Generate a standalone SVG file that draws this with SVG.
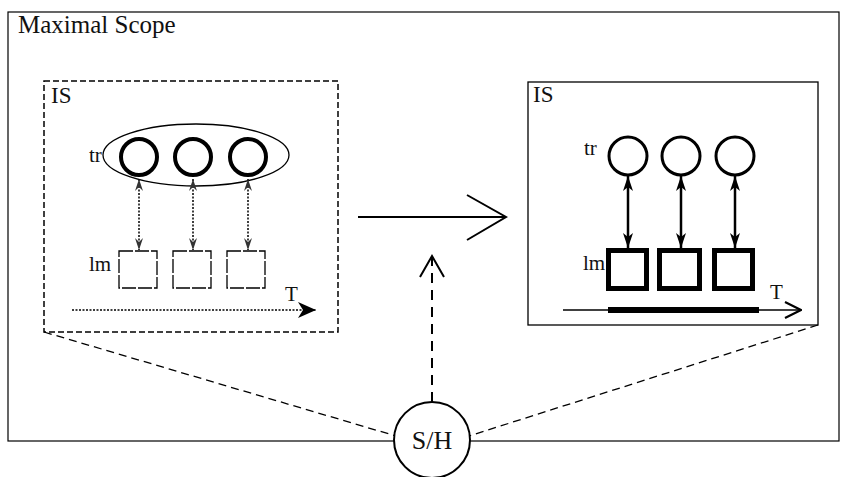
<svg xmlns="http://www.w3.org/2000/svg" width="847" height="477" viewBox="0 0 847 477">
<defs>
<style>
text{font-family:"Liberation Serif","Times New Roman",serif;fill:#111}
.ln{fill:none;stroke:#000}
</style>
<marker id="dh" viewBox="0 0 12 8" refX="12" refY="4" markerWidth="12" markerHeight="8" orient="auto-start-reverse" markerUnits="userSpaceOnUse">
<path d="M0,0 L12,4 L0,8 L4,4 Z" fill="#333"/>
</marker>
<marker id="sh" viewBox="0 0 15 10" refX="15" refY="5" markerWidth="15" markerHeight="10" orient="auto-start-reverse" markerUnits="userSpaceOnUse">
<path d="M0,0 L15,5 L0,10 L4,5 Z" fill="#000"/>
</marker>
<marker id="tb" viewBox="0 0 20 20" refX="20" refY="10" markerWidth="20" markerHeight="20" orient="auto" markerUnits="userSpaceOnUse">
<path d="M2,2 L20,10 L2,18 L7,10 Z" fill="#000"/>
</marker>
<marker id="to" viewBox="0 0 20 20" refX="19" refY="10" markerWidth="20" markerHeight="20" orient="auto" markerUnits="userSpaceOnUse">
<path d="M3,2 L19,10 L3,18" fill="none" stroke="#000" stroke-width="2.2"/>
</marker>
</defs>
<rect width="847" height="477" fill="#fff"/>

<g id="scope">
<rect x="8" y="12" width="831" height="429" class="ln" stroke-width="1.2"/>
<text x="18" y="33" font-size="25">Maximal Scope</text>
</g>

<g id="connectors">
<line x1="44" y1="332" x2="396" y2="436" class="ln" stroke-width="1.3" stroke-dasharray="8,5"/>
<line x1="818" y1="325" x2="469" y2="436" class="ln" stroke-width="1.3" stroke-dasharray="8,5"/>
<line x1="358" y1="217" x2="505" y2="217" class="ln" stroke-width="2"/>
<polyline points="467,195 506,217 467,240" class="ln" stroke-width="2"/>
<line x1="432" y1="402" x2="432" y2="258" class="ln" stroke-width="2" stroke-dasharray="10,7"/>
<polyline points="420,277 432,256 444,277" class="ln" stroke-width="2"/>
</g>

<g id="is-left">
<rect x="44" y="81" width="294" height="251" class="ln" stroke-width="1.5" stroke-dasharray="6,3"/>
<text x="51" y="103" font-size="23">IS</text>
<text x="89" y="162" font-size="21">tr</text>
<text x="89" y="271" font-size="21">lm</text>
<text x="285" y="301" font-size="21">T</text>
<ellipse cx="196" cy="155" rx="93" ry="31" class="ln" stroke-width="1.3"/>
<circle cx="139" cy="157" r="18" class="ln" stroke-width="4"/>
<circle cx="193" cy="157" r="18" class="ln" stroke-width="4"/>
<circle cx="248" cy="157" r="18" class="ln" stroke-width="4"/>
<g stroke-dasharray="2,1.5" stroke-width="1.5">
<line x1="139" y1="179" x2="139" y2="250" class="ln" marker-start="url(#dh)" marker-end="url(#dh)"/>
<line x1="193" y1="179" x2="193" y2="250" class="ln" marker-start="url(#dh)" marker-end="url(#dh)"/>
<line x1="248" y1="179" x2="248" y2="250" class="ln" marker-start="url(#dh)" marker-end="url(#dh)"/>
</g>
<g stroke-dasharray="14,2" stroke-width="1.3">
<rect x="119" y="251" width="38" height="37" class="ln"/>
<rect x="173" y="251" width="38" height="37" class="ln"/>
<rect x="227" y="251" width="38" height="37" class="ln"/>
</g>
<line x1="72" y1="310" x2="316" y2="310" class="ln" stroke-width="1.5" stroke-dasharray="2,1.5" marker-end="url(#tb)"/>
</g>

<g id="is-right">
<rect x="528" y="82" width="290" height="243" class="ln" stroke-width="1.3"/>
<text x="533" y="102" font-size="23">IS</text>
<text x="584" y="155" font-size="21">tr</text>
<text x="583" y="270" font-size="21">lm</text>
<text x="770" y="299" font-size="21">T</text>
<circle cx="628" cy="156" r="19" class="ln" stroke-width="3"/>
<circle cx="681" cy="156" r="19" class="ln" stroke-width="3"/>
<circle cx="735" cy="156" r="19" class="ln" stroke-width="3"/>
<line x1="628" y1="176" x2="628" y2="248" class="ln" stroke-width="2.5" marker-start="url(#sh)" marker-end="url(#sh)"/>
<line x1="681" y1="176" x2="681" y2="248" class="ln" stroke-width="2.5" marker-start="url(#sh)" marker-end="url(#sh)"/>
<line x1="735" y1="176" x2="735" y2="248" class="ln" stroke-width="2.5" marker-start="url(#sh)" marker-end="url(#sh)"/>
<rect x="608.5" y="250.5" width="38" height="38" class="ln" stroke-width="5"/>
<rect x="659.5" y="250.5" width="40" height="38" class="ln" stroke-width="5"/>
<rect x="714.5" y="250.5" width="38" height="38" class="ln" stroke-width="5"/>
<line x1="563" y1="310" x2="801" y2="310" class="ln" stroke-width="1.5" marker-end="url(#to)"/>
<line x1="608" y1="310" x2="759" y2="310" class="ln" stroke-width="6"/>
</g>

<g id="sh-node">
<circle cx="432" cy="440" r="38" fill="#fff" stroke="#000" stroke-width="2"/>
<text x="432" y="449" font-size="26" text-anchor="middle">S/H</text>
</g>
</svg>
